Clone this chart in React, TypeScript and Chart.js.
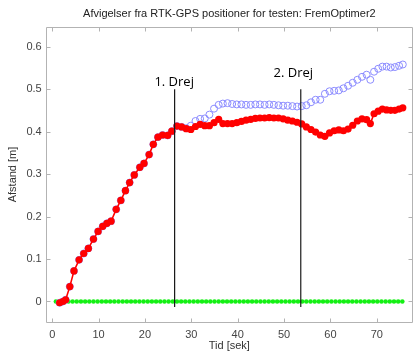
import React, { useEffect, useRef } from "react";
import { Chart, registerables } from "chart.js";

Chart.register(...registerables);

const chartTitle = "Afvigelser fra RTK-GPS positioner for testen: FremOptimer2";
const xLabel = "Tid [sek]";
const yLabel = "Afstand [m]";

const xTicks = [0, 10, 20, 30, 40, 50, 60, 70];
const yTicks = [0, 0.1, 0.2, 0.3, 0.4, 0.5, 0.6];
const xRange = [-1.4, 77.8];
const yRange = [-0.049, 0.647];

const time = [
  1.6, 2.3, 2.9, 3.8, 4.7, 5.8, 6.8, 7.8, 8.9, 9.9, 10.9, 11.8, 12.7, 13.8, 14.8, 15.8,
  16.7, 17.7, 18.9, 19.8, 20.9, 21.8, 22.8, 23.8, 24.9, 25.8, 26.9, 27.9, 28.9, 29.9,
  30.9, 31.9, 32.9, 33.9, 34.9, 35.9, 36.8, 37.8, 38.8, 39.8, 40.8, 41.8, 42.8, 43.8,
  44.8, 45.8, 46.8, 47.8, 48.8, 49.8, 50.8, 51.8, 52.8, 53.8, 54.8, 55.8, 56.8, 57.8,
  58.8, 59.8, 60.8, 61.8, 62.8, 63.8, 64.8, 65.8, 66.8, 67.8, 68.6, 69.4, 70.3, 71.2,
  72.1, 73.0, 73.9, 74.8, 75.6,
];

const redValues = [
  -0.003, 0.0, 0.004, 0.035, 0.072, 0.098, 0.113, 0.125, 0.147, 0.165, 0.177, 0.184, 0.189,
  0.217, 0.238, 0.261, 0.28, 0.298, 0.316, 0.325, 0.346, 0.37, 0.387, 0.392, 0.391, 0.401,
  0.413, 0.411, 0.407, 0.405, 0.412, 0.417, 0.414, 0.414, 0.421, 0.429, 0.419, 0.419, 0.419,
  0.421, 0.424, 0.427, 0.429, 0.431, 0.432, 0.432, 0.433, 0.432, 0.432, 0.43, 0.427, 0.425,
  0.422, 0.418, 0.411, 0.405, 0.399, 0.392, 0.389, 0.397, 0.402, 0.404, 0.402, 0.406, 0.415,
  0.425, 0.43, 0.428, 0.419, 0.442, 0.448, 0.453, 0.451, 0.45, 0.45, 0.453, 0.456,
];

const blueValues = [
  -0.003, 0.0, 0.004, 0.035, 0.072, 0.098, 0.113, 0.125, 0.147, 0.165, 0.177, 0.184, 0.189,
  0.217, 0.238, 0.261, 0.28, 0.298, 0.316, 0.325, 0.346, 0.37, 0.387, 0.392, 0.391, 0.401,
  0.413, 0.411, 0.408, 0.414, 0.425, 0.43, 0.431, 0.44, 0.454, 0.463, 0.466, 0.467, 0.465,
  0.464, 0.464, 0.463, 0.463, 0.464, 0.464, 0.463, 0.464, 0.463, 0.462, 0.461, 0.461, 0.46,
  0.459, 0.46, 0.462, 0.469, 0.475, 0.475, 0.489, 0.495, 0.496, 0.497, 0.502, 0.508, 0.515,
  0.522, 0.529, 0.534, 0.522, 0.541, 0.548, 0.553, 0.553, 0.551, 0.552, 0.555, 0.558,
];

const greenTime = [
  0.8, 1.7, 2.6, 3.5, 4.4, 5.3, 6.2, 7.1, 8.0, 8.9, 9.8, 10.7, 11.6, 12.5, 13.4, 14.3, 15.2,
  16.1, 17.0, 17.9, 18.8, 19.7, 20.6, 21.5, 22.4, 23.3, 24.2, 25.1, 26.0, 26.9, 27.8, 28.7,
  29.6, 30.5, 31.4, 32.3, 33.2, 34.1, 35.0, 35.9, 36.8, 37.7, 38.6, 39.5, 40.4, 41.3, 42.2,
  43.1, 44.0, 44.9, 45.8, 46.7, 47.6, 48.5, 49.4, 50.3, 51.2, 52.1, 53.0, 53.9, 54.8, 55.7,
  56.6, 57.5, 58.4, 59.3, 60.2, 61.1, 62.0, 62.9, 63.8, 64.7, 65.6, 66.5, 67.4, 68.3, 69.2,
  70.1, 71.0, 71.9, 72.8, 73.7, 74.6, 75.5,
];

const greenValues = [
  0, 0, 0, 0, 0, 0, 0, 0, 0, 0, 0, 0, 0, 0, 0, 0, 0, 0, 0, 0, 0, 0, 0, 0, 0, 0, 0, 0,
  0, 0, 0, 0, 0, 0, 0, 0, 0, 0, 0, 0, 0, 0, 0, 0, 0, 0, 0, 0, 0, 0, 0, 0, 0, 0, 0, 0,
  0, 0, 0, 0, 0, 0, 0, 0, 0, 0, 0, 0, 0, 0, 0, 0, 0, 0, 0, 0, 0, 0, 0, 0, 0, 0, 0, 0,
];

const turnTimes = [26.4, 53.6];
const turnLineTop = 0.5;
const turnLineBottom = -0.013;
const turnLabels = ["1. Drej", "2. Drej"];
const turnLabelX = [26.3, 52.0];
const turnLabelY = [0.517, 0.538];

const pts = (xs: number[], ys: number[]) => xs.map((x, i) => ({ x, y: ys[i] }));

const overlayPlugin = {
  id: "overlay",
  afterDraw(chart: any) {
    const { ctx, chartArea: a, scales } = chart;
    const x = scales.x;
    const y = scales.y;
    ctx.save();
    const L = Math.round(a.left) + 0.5;
    const R = Math.round(a.right) - 0.5;
    const T = Math.round(a.top) + 0.5;
    const B = Math.round(a.bottom) + 0.5;
    ctx.strokeStyle = "#b3b3b3";
    ctx.lineWidth = 1;
    ctx.beginPath();
    ctx.moveTo(L, T);
    ctx.lineTo(R, T);
    ctx.lineTo(R, B);
    ctx.lineTo(L, B);
    ctx.closePath();
    ctx.stroke();
    ctx.beginPath();
    xTicks.forEach((v) => {
      const p = Math.round(x.getPixelForValue(v)) + 0.5;
      ctx.moveTo(p, B);
      ctx.lineTo(p, B - 4);
      ctx.moveTo(p, T);
      ctx.lineTo(p, T + 4);
    });
    yTicks.forEach((v) => {
      const p = Math.round(y.getPixelForValue(v)) + 0.5;
      ctx.moveTo(L, p);
      ctx.lineTo(L + 4, p);
      ctx.moveTo(R, p);
      ctx.lineTo(R - 4, p);
    });
    ctx.stroke();

    ctx.fillStyle = "#000";
    ctx.font = '13px "Open Sans"';
    ctx.textAlign = "center";
    ctx.textBaseline = "middle";
    turnLabels.forEach((t, i) => {
      ctx.fillText(t, x.getPixelForValue(turnLabelX[i]), y.getPixelForValue(turnLabelY[i]));
    });

    ctx.fillStyle = "#222";
    ctx.font = '11px "Liberation Sans"';
    ctx.fillText(chartTitle, (a.left + a.right) / 2, 14);
    ctx.fillStyle = "#333";
    ctx.fillText(xLabel, (a.left + a.right) / 2, 346);
    ctx.translate(13, (a.top + a.bottom) / 2);
    ctx.rotate(-Math.PI / 2);
    ctx.fillText(yLabel, 0, 0);
    ctx.restore();
  },
};

export default function App() {
  const ref = useRef<HTMLCanvasElement>(null);
  useEffect(() => {
    if (!ref.current) return;
    const turnSets = turnTimes.map((t) => ({
      type: "line" as const,
      data: [
        { x: t, y: turnLineTop },
        { x: t, y: turnLineBottom },
      ],
      showLine: true,
      borderColor: "#1a1a1a",
      borderWidth: 1.2,
      pointRadius: 0,
    }));
    const chart = new Chart(ref.current, {
      type: "scatter",
      data: {
        datasets: [
          ...turnSets,
          {
            data: pts(time, redValues),
            showLine: true,
            borderColor: "rgb(255,0,0)",
            borderWidth: 1.6,
            pointRadius: 3.6,
            pointBackgroundColor: "rgb(255,0,0)",
            pointBorderColor: "rgb(255,0,0)",
            pointBorderWidth: 0,
          },
          {
            data: pts(time, blueValues),
            showLine: false,
            pointRadius: 3.5,
            pointBackgroundColor: "rgba(0,0,0,0)",
            pointBorderColor: "rgb(140,140,255)",
            pointBorderWidth: 1,
          },
          {
            data: pts(greenTime, greenValues),
            showLine: false,
            pointRadius: 2.3,
            pointBackgroundColor: "rgb(20,240,20)",
            pointBorderColor: "rgb(20,240,20)",
            pointBorderWidth: 0,
          },
        ] as any,
      },
      options: {
        animation: false,
        responsive: false,
        devicePixelRatio: 1,
        layout: { padding: { top: 26.7, left: 0, right: 0, bottom: 0 } },
        plugins: { legend: { display: false }, tooltip: { enabled: false }, title: { display: false } },
        scales: {
          x: {
            type: "linear",
            min: xRange[0],
            max: xRange[1],
            grid: { display: false, drawTicks: false },
            border: { display: false },
            afterBuildTicks: (s: any) => {
              s.ticks = xTicks.map((v) => ({ value: v }));
            },
            afterFit: (s: any) => {
              s.height = 31.7;
            },
            ticks: {
              padding: 6,
              color: "#444",
              font: { family: "Liberation Sans", size: 11 },
              maxRotation: 0,
              callback: (v: any) => String(v),
            },
          },
          y: {
            type: "linear",
            min: yRange[0],
            max: yRange[1],
            grid: { display: false, drawTicks: false },
            border: { display: false },
            afterBuildTicks: (s: any) => {
              s.ticks = yTicks.map((v) => ({ value: v }));
            },
            afterFit: (s: any) => {
              s.width = 45.7;
            },
            ticks: {
              padding: 4,
              color: "#444",
              font: { family: "Liberation Sans", size: 11 },
              callback: (v: any) => String(Math.round(v * 10) / 10),
            },
          },
        },
      },
      plugins: [overlayPlugin],
    } as any);
    return () => chart.destroy();
  }, []);
  return (
    <div style={{ position: "absolute", left: 0, top: 0, width: 418, height: 354, background: "#fff" }}>
      <canvas ref={ref} width={418} height={354} />
    </div>
  );
}
